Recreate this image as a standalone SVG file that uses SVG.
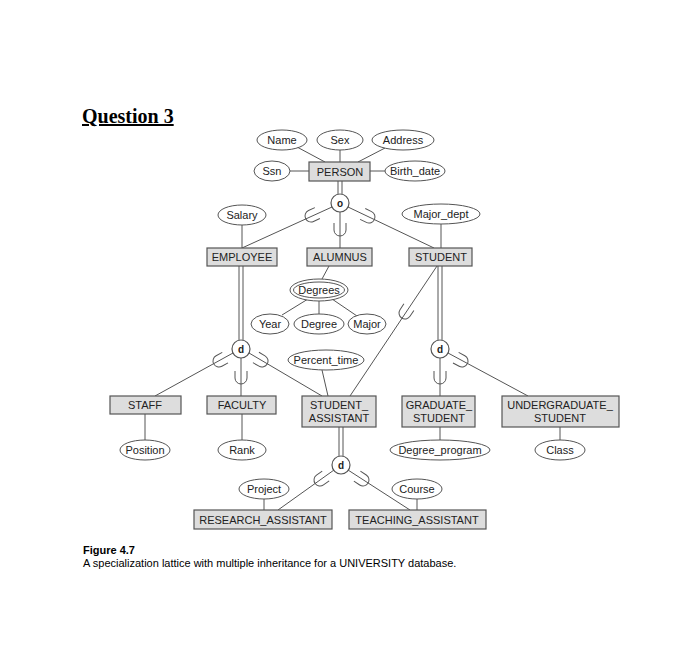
<svg xmlns="http://www.w3.org/2000/svg" width="700" height="645" viewBox="0 0 700 645">
<defs>
<style>
text{font-family:"Liberation Sans",Arial,sans-serif;font-size:11px;fill:#222;text-anchor:middle}
.ent rect{fill:#ddd;stroke:#555;stroke-width:1.2}
.att ellipse{fill:#fff;stroke:#555;stroke-width:1}
.c line{stroke:#555;stroke-width:1;fill:none}
.circ circle{fill:#fff;stroke:#555;stroke-width:1.2}
.circ text{font-weight:bold;font-size:10px}
</style>
<path id="cup" d="M-6,-7 L-6,0 A6,6 0 0 0 6,0 L6,-7" fill="none" stroke="#555" stroke-width="1"/>
</defs>
<rect width="700" height="645" fill="#fff"/>
<text x="82" y="123" style="font-family:'Liberation Serif',serif;font-size:20px;font-weight:bold;text-anchor:start;text-decoration:underline;fill:#000">Question 3</text>
<g class="c">
<line x1="297" y1="147" x2="325" y2="162"/><line x1="340" y1="150" x2="340" y2="162"/><line x1="385" y1="148" x2="358" y2="162"/>
<line x1="290" y1="171" x2="309" y2="171"/><line x1="370" y1="171" x2="385" y2="171"/>
<line x1="338" y1="181" x2="338" y2="194"/><line x1="342" y1="181" x2="342" y2="194"/>
<line x1="332" y1="207" x2="242" y2="248"/><line x1="340" y1="212" x2="340" y2="248"/><line x1="348" y1="207" x2="434" y2="248"/>
<line x1="242" y1="225" x2="242" y2="248"/><line x1="441" y1="224" x2="441" y2="248"/>
<line x1="329" y1="266" x2="322" y2="279"/>
<line x1="308" y1="299" x2="282" y2="315"/><line x1="319" y1="301" x2="319" y2="314"/><line x1="332" y1="299" x2="357" y2="316"/>
<line x1="239" y1="266" x2="239" y2="340"/><line x1="243" y1="266" x2="243" y2="340"/>
<line x1="438" y1="266" x2="438" y2="340"/><line x1="442" y1="266" x2="442" y2="340"/>
<line x1="437" y1="266" x2="350" y2="396"/>
<line x1="233" y1="353" x2="155" y2="396"/><line x1="241" y1="358" x2="241" y2="396"/><line x1="249" y1="353" x2="322" y2="396"/>
<line x1="322" y1="370" x2="328" y2="396"/>
<line x1="440" y1="358" x2="440" y2="396"/><line x1="448" y1="353" x2="528" y2="396"/>
<line x1="145" y1="414" x2="145" y2="440"/><line x1="242" y1="414" x2="242" y2="440"/><line x1="440" y1="427" x2="440" y2="440"/><line x1="560" y1="427" x2="560" y2="440"/>
<line x1="339" y1="427" x2="339" y2="456"/><line x1="343" y1="427" x2="343" y2="456"/>
<line x1="334" y1="470" x2="278" y2="510"/><line x1="348" y1="470" x2="410" y2="510"/>
<line x1="264" y1="499" x2="264" y2="510"/><line x1="417" y1="499" x2="417" y2="510"/>
<use href="#cup" transform="translate(311,216) rotate(65.3)"/>
<use href="#cup" transform="translate(340,230)"/>
<use href="#cup" transform="translate(369,217) rotate(-64.4)"/>
<use href="#cup" transform="translate(219,361) rotate(61.3)"/>
<use href="#cup" transform="translate(241,378)"/>
<use href="#cup" transform="translate(262,361) rotate(-59.9)"/>
<use href="#cup" transform="translate(405,313) rotate(33.8)"/>
<use href="#cup" transform="translate(440,378)"/>
<use href="#cup" transform="translate(462,361) rotate(-61.9)"/>
<use href="#cup" transform="translate(320,480) rotate(54.5)"/>
<use href="#cup" transform="translate(363,480) rotate(-56.9)"/>
</g>
<g id="name" class="att"><ellipse cx="282" cy="140" rx="25" ry="10"/><text x="282" y="144">Name</text></g>
<g id="sex" class="att"><ellipse cx="340" cy="140" rx="23" ry="10"/><text x="340" y="144">Sex</text></g>
<g id="address" class="att"><ellipse cx="403" cy="140" rx="31" ry="10"/><text x="403" y="144">Address</text></g>
<g id="ssn" class="att"><ellipse cx="272" cy="171" rx="18" ry="10"/><text x="272" y="175">Ssn</text></g>
<g id="birth" class="att"><ellipse cx="415" cy="171" rx="30" ry="10"/><text x="415" y="175">Birth_date</text></g>
<g id="person" class="ent"><rect x="309" y="162" width="61" height="19"/><text x="340" y="176">PERSON</text></g>
<g id="o1" class="circ"><circle cx="340" cy="203" r="9"/><text x="340" y="207">o</text></g>
<g id="salary" class="att"><ellipse cx="242" cy="215" rx="24" ry="10"/><text x="242" y="219">Salary</text></g>
<g id="major_dept" class="att"><ellipse cx="441" cy="214" rx="39" ry="10"/><text x="441" y="218">Major_dept</text></g>
<g id="employee" class="ent"><rect x="207" y="248" width="70" height="18"/><text x="242" y="261">EMPLOYEE</text></g>
<g id="alumnus" class="ent"><rect x="307" y="248" width="65" height="18"/><text x="340" y="261">ALUMNUS</text></g>
<g id="student" class="ent"><rect x="409" y="248" width="63" height="18"/><text x="441" y="261">STUDENT</text></g>
<g id="degrees" class="att"><ellipse cx="319" cy="290" rx="29" ry="11"/><ellipse cx="319" cy="290" rx="25.5" ry="8"/><text x="319" y="294">Degrees</text></g>
<g id="year" class="att"><ellipse cx="270" cy="324" rx="19" ry="10"/><text x="270" y="328">Year</text></g>
<g id="degree" class="att"><ellipse cx="319" cy="324" rx="25" ry="10"/><text x="319" y="328">Degree</text></g>
<g id="major" class="att"><ellipse cx="367" cy="324" rx="19" ry="10"/><text x="367" y="328">Major</text></g>
<g id="d1" class="circ"><circle cx="241" cy="349" r="9"/><text x="241" y="353">d</text></g>
<g id="d2" class="circ"><circle cx="440" cy="349" r="9"/><text x="440" y="353">d</text></g>
<g id="percent" class="att"><ellipse cx="326" cy="360" rx="38" ry="10"/><text x="326" y="364">Percent_time</text></g>
<g id="staff" class="ent"><rect x="110" y="396" width="71" height="18"/><text x="145" y="409">STAFF</text></g>
<g id="faculty" class="ent"><rect x="207" y="396" width="69" height="18"/><text x="242" y="409">FACULTY</text></g>
<g id="sa" class="ent"><rect x="302" y="396" width="74" height="31"/><text x="339" y="409">STUDENT_</text><text x="339" y="422">ASSISTANT</text></g>
<g id="grad" class="ent"><rect x="402" y="396" width="73" height="31"/><text x="439" y="409">GRADUATE_</text><text x="439" y="422">STUDENT</text></g>
<g id="ugrad" class="ent"><rect x="502" y="396" width="117" height="31"/><text x="560" y="409">UNDERGRADUATE_</text><text x="560" y="422">STUDENT</text></g>
<g id="position" class="att"><ellipse cx="145" cy="450" rx="25" ry="10"/><text x="145" y="454">Position</text></g>
<g id="rank" class="att"><ellipse cx="242" cy="450" rx="24" ry="10"/><text x="242" y="454">Rank</text></g>
<g id="degprog" class="att"><ellipse cx="440" cy="450" rx="50" ry="10"/><text x="440" y="454">Degree_program</text></g>
<g id="class" class="att"><ellipse cx="560" cy="450" rx="25" ry="10"/><text x="560" y="454">Class</text></g>
<g id="d3" class="circ"><circle cx="341" cy="465" r="9"/><text x="341" y="469">d</text></g>
<g id="project" class="att"><ellipse cx="264" cy="489" rx="25" ry="10"/><text x="264" y="493">Project</text></g>
<g id="course" class="att"><ellipse cx="417" cy="489" rx="25" ry="10"/><text x="417" y="493">Course</text></g>
<g id="ra" class="ent"><rect x="194" y="510" width="138" height="19"/><text x="263" y="524">RESEARCH_ASSISTANT</text></g>
<g id="ta" class="ent"><rect x="349" y="510" width="137" height="19"/><text x="417" y="524">TEACHING_ASSISTANT</text></g>
<text x="83" y="554" style="text-anchor:start;font-weight:bold;font-size:11px;fill:#000">Figure 4.7</text>
<text x="83" y="567" style="text-anchor:start;font-size:11px;fill:#000">A specialization lattice with multiple inheritance for a UNIVERSITY database.</text>
</svg>
